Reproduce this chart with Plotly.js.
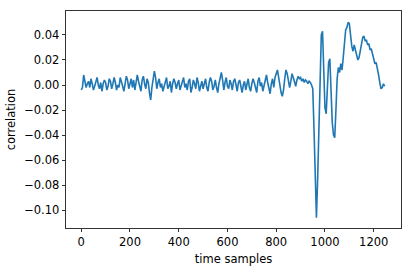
<!DOCTYPE html>
<html>
<head>
<meta charset="utf-8">
<script src="https://cdn.plot.ly/plotly-3.0.1.min.js"></script>
<style>html,body{margin:0;padding:0;background:#fff;}#chart{width:413px;height:270px;}</style>
</head>
<body>
<div id="chart"></div>
<script>
// sampling step of the listed values (in time samples)
const sampleStep = 5;
// correlation values, one every 5 time samples (0 .. 1245)
const correlation = [
  // 0-95
  -0.004, -0.002, 0.008, 0.004, -0.002, 0.001, 0.003, -0.002, 0.005, 0.001, -0.004, -0.001, 0.004, 0.006, 0.000, -0.003, 0.002, -0.005, 0.001, 0.004,
  // 100-195
  0.002, -0.004, -0.001, 0.005, 0.003, -0.003, 0.001, 0.006, 0.002, -0.004, 0.000, -0.002, 0.006, 0.003, -0.001, -0.005, 0.002, 0.007, 0.004, -0.003,
  // 200-295
  0.001, 0.005, -0.002, 0.004, -0.004, 0.001, 0.008, 0.003, -0.002, -0.005, 0.004, 0.007, 0.001, -0.003, 0.005, 0.002, -0.006, -0.012, -0.002, 0.005,
  // 300-395
  0.011, 0.006, -0.003, 0.002, 0.005, -0.002, 0.001, -0.005, -0.001, 0.004, 0.006, -0.003, -0.001, 0.003, -0.006, 0.001, 0.005, 0.002, -0.003, 0.001,
  // 400-495
  0.004, -0.004, -0.001, 0.003, 0.006, -0.002, 0.001, -0.004, 0.003, 0.005, -0.006, -0.002, 0.004, 0.001, -0.003, 0.006, 0.002, -0.005, 0.000, 0.003,
  // 500-595
  -0.003, 0.001, 0.005, -0.002, -0.005, 0.002, 0.006, 0.003, -0.004, -0.001, 0.004, -0.002, -0.006, 0.001, 0.005, 0.010, 0.004, -0.004, 0.002, 0.006,
  // 600-695
  -0.001, -0.003, 0.004, 0.001, -0.004, 0.003, 0.005, -0.002, -0.005, 0.002, 0.004, -0.001, -0.006, 0.000, 0.003, -0.004, 0.002, 0.005, -0.002, -0.005,
  // 700-795
  0.001, 0.005, 0.002, -0.003, -0.006, 0.003, 0.006, -0.001, 0.002, -0.005, 0.000, 0.004, 0.008, 0.002, -0.004, -0.007, 0.001, 0.005, -0.002, 0.006,
  // 800-895
  0.009, 0.012, 0.006, -0.001, -0.006, -0.009, -0.004, 0.005, 0.012, 0.009, 0.002, -0.002, 0.003, 0.009, 0.006, 0.001, -0.001, 0.004, 0.007, 0.005,
  // 900-945
  0.006, 0.003, 0.005, 0.002, 0.004, 0.003, 0.001, 0.003, 0.002, 0.000,
  // 950-1045
  -0.003, -0.035, -0.080, -0.106, -0.075, -0.030, 0.010, 0.040, 0.043, 0.015, -0.018, -0.023, -0.005, 0.018, 0.021, -0.005, -0.030, -0.040, -0.042, -0.020,
  // 1050-1145
  0.005, 0.014, 0.010, 0.017, 0.012, 0.022, 0.034, 0.044, 0.046, 0.050, 0.049, 0.038, 0.031, 0.027, 0.032, 0.028, 0.024, 0.020, 0.022, 0.027,
  // 1150-1245
  0.033, 0.038, 0.039, 0.035, 0.036, 0.032, 0.033, 0.028, 0.029, 0.024, 0.022, 0.017, 0.018, 0.011, 0.008, 0.002, -0.003, -0.002, 0.001, -0.001
];
const timeSamples = correlation.map((_, i) => i * sampleStep);

const xTickVals = [0, 200, 400, 600, 800, 1000, 1200];
const yTickVals = [-0.10, -0.08, -0.06, -0.04, -0.02, 0.00, 0.02, 0.04];

const font = {family: 'DejaVu Sans, sans-serif', size: 11.5, color: '#000'};

Plotly.newPlot('chart', [{
  x: timeSamples,
  y: correlation,
  type: 'scatter',
  mode: 'lines',
  line: {color: '#1f77b4', width: 1.6},
  hoverinfo: 'skip'
}], {
  width: 413, height: 270,
  margin: {l: 66, r: 12, t: 11, b: 42},
  paper_bgcolor: '#fff', plot_bgcolor: '#fff',
  showlegend: false,
  font: font,
  xaxis: {
    range: [-62.5, 1312],
    tickvals: xTickVals,
    ticks: 'outside', ticklen: 3.5, tickwidth: 0.8, tickcolor: '#000',
    showgrid: false, zeroline: false,
    showline: true, linecolor: '#000', linewidth: 0.8, mirror: true,
    tickfont: font,
    title: {text: 'time samples', font: font, standoff: 6}
  },
  yaxis: {
    range: [-0.1142, 0.0591],
    tickvals: yTickVals,
    tickformat: '.2f',
    ticks: 'outside', ticklen: 3.5, tickwidth: 0.8, tickcolor: '#000',
    showgrid: false, zeroline: false,
    showline: true, linecolor: '#000', linewidth: 0.8, mirror: true,
    tickfont: font,
    title: {text: 'correlation', font: font, standoff: 6}
  }
}, {staticPlot: true, displayModeBar: false});
</script>
</body>
</html>
